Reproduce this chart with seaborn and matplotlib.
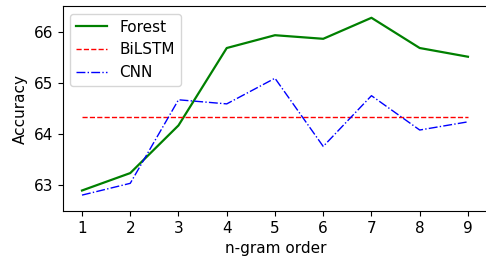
import matplotlib
matplotlib.use("Agg")
import matplotlib.pyplot as plt
import seaborn as sns

ngram = [1, 2, 3, 4, 5, 6, 7, 8, 9]
forest = [62.90, 63.24, 64.17, 65.68, 65.93, 65.86, 66.27, 65.68, 65.51]
bilstm = [64.33] * 9
cnn = [62.81, 63.04, 64.67, 64.59, 65.09, 63.76, 64.75, 64.08, 64.24]

plt.rcParams["font.family"] = ["DejaVu Sans"]
plt.rcParams["font.size"] = 11

fig = plt.figure(figsize=(4.86, 2.6), dpi=100)
# the reference is cropped just left of the right spine
ax = fig.add_axes([62.7 / 486, 1 - 211 / 260, 426 / 486, 205 / 260])

sns.lineplot(x=ngram, y=forest, color="g", linestyle="-", linewidth=1.6, label="Forest", ax=ax)
sns.lineplot(x=ngram, y=bilstm, color="r", linestyle="--", linewidth=1.0, label="BiLSTM", ax=ax)
sns.lineplot(x=ngram, y=cnn, color="b", linestyle="-.", linewidth=1.0, label="CNN", ax=ax)

ax.set_xlim(0.6, 9.43)
ax.set_ylim(62.5, 66.5)
ax.set_xticks(ngram)
ax.set_yticks([63, 64, 65, 66])
ax.set_xlabel("n-gram order")
ax.set_ylabel("Accuracy")
ax.spines["right"].set_visible(False)
ax.legend(loc="upper left", fontsize=11)

fig.savefig("out.png", dpi=100)
